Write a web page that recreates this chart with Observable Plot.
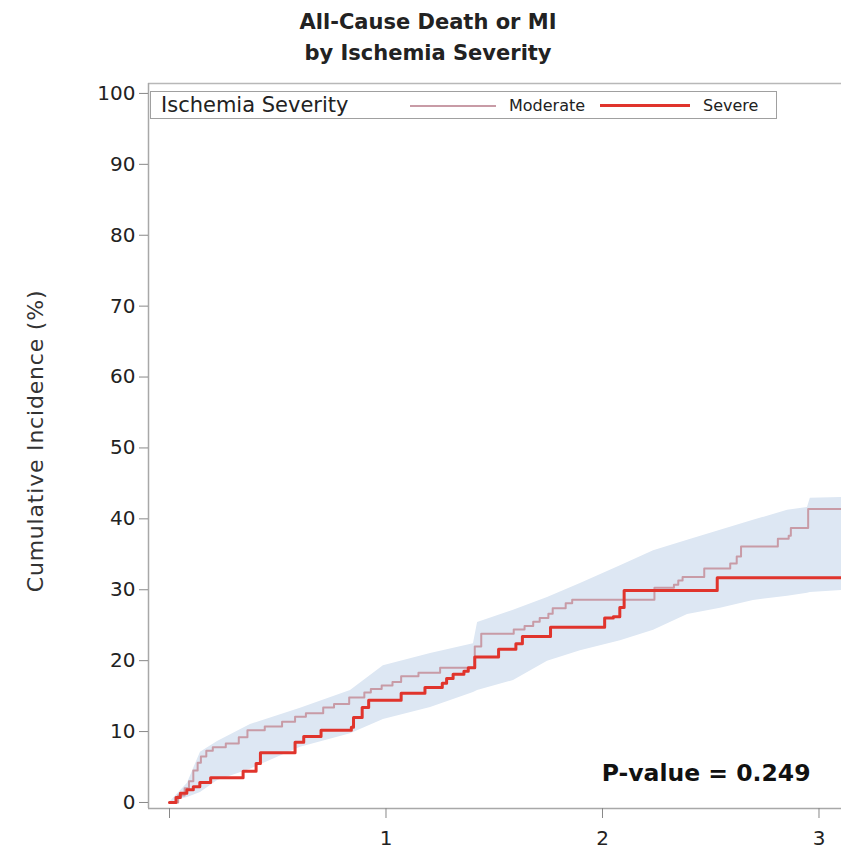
<!DOCTYPE html>
<html>
<head>
<meta charset="utf-8">
<script src="https://cdn.jsdelivr.net/npm/d3@7"></script>
<script src="https://cdn.jsdelivr.net/npm/@observablehq/plot@0.6"></script>
<style>
  html, body { margin: 0; padding: 0; background: #fff; }
  #wrap { position: relative; width: 841px; height: 856px; font-family: "DejaVu Sans", sans-serif; color: #222; overflow: hidden; }
  #title { position: absolute; left: 0; top: 7px; width: 856px; text-align: center; font-weight: bold; font-size: 21px; line-height: 31px; }
  #legend { position: absolute; left: 150px; top: 91px; width: 625px; height: 26px; border: 1px solid #a0a0a0; background: #fff; }
  #legend span { position: absolute; top: 50%; transform: translateY(-50%); white-space: nowrap; }
  #legend .sw { position: absolute; top: 13px; }
  #chart { position: absolute; left: 0; top: 0; }
</style>
</head>
<body>
<div id="wrap">
  <div id="chart"></div>
  <div id="title"></div>
  <div id="legend"></div>
</div>
<script>
// ---------- data ----------
const titleLines = ["All-Cause Death or MI", "by Ischemia Severity"];
const legendTitle = "Ischemia Severity";
const seriesNames = ["Moderate", "Severe"];
const seriesColors = ["#c89ba6", "#e0342c"];
const yLabel = "Cumulative Incidence (%)";
const pLabel = "P-value = 0.249";
const xTicks = [0, 1, 2, 3];
const yTicks = [0, 10, 20, 30, 40, 50, 60, 70, 80, 90, 100];
const xDomain = [-0.097, 3.104];
const yDomain = [-0.85, 101.4];

// Moderate ischemia (step times, cumulative incidence %)
const modT = [0, 0.04, 0.07, 0.09, 0.11, 0.13, 0.145, 0.17, 0.20, 0.26, 0.32, 0.36, 0.44, 0.52, 0.58, 0.63, 0.71, 0.76, 0.83, 0.90, 0.93, 0.98, 1.03, 1.07, 1.15, 1.25, 1.41, 1.44, 1.59, 1.64, 1.68, 1.71, 1.75, 1.77, 1.83, 1.86, 2.24, 2.33, 2.35, 2.37, 2.47, 2.59, 2.62, 2.64, 2.81, 2.86, 2.87, 2.95, 3.104];
const modV = [0, 1.0, 2.0, 3.0, 4.5, 5.6, 6.5, 7.3, 7.8, 8.3, 9.2, 10.2, 10.7, 11.4, 12.1, 12.6, 13.4, 13.9, 14.8, 15.5, 16.0, 16.5, 17.0, 17.8, 18.3, 19.0, 22.0, 23.8, 24.4, 24.9, 25.5, 26.0, 26.6, 27.4, 28.1, 28.6, 30.3, 30.7, 31.3, 31.8, 33.0, 33.7, 34.7, 36.1, 37.2, 37.6, 38.7, 41.4, 41.4];

// Severe ischemia
const sevT = [0, 0.03, 0.05, 0.08, 0.11, 0.14, 0.19, 0.34, 0.40, 0.42, 0.58, 0.62, 0.70, 0.84, 0.85, 0.89, 0.92, 1.07, 1.18, 1.26, 1.28, 1.31, 1.36, 1.38, 1.41, 1.52, 1.60, 1.63, 1.76, 2.01, 2.05, 2.08, 2.10, 2.53, 3.104];
const sevV = [0, 0.7, 1.3, 1.8, 2.2, 2.8, 3.5, 4.4, 5.5, 7.0, 8.5, 9.3, 10.2, 10.6, 12.0, 13.4, 14.4, 15.4, 16.2, 16.8, 17.5, 18.1, 18.5, 19.0, 20.5, 21.6, 22.4, 23.4, 24.7, 26.0, 26.2, 27.5, 29.9, 31.7, 31.7];

// Confidence band
const bandT  = [0, 0.083, 0.143, 0.222, 0.374, 0.605, 0.836, 0.988, 1.206, 1.404, 1.423, 1.589, 1.746, 1.898, 2.083, 2.236, 2.393, 2.545, 2.697, 2.855, 2.947, 2.96, 3.104];
const bandLo = [0, 0.7, 1.4, 3.1, 4.7, 7.8, 9.7, 11.7, 13.4, 15.5, 15.8, 17.2, 19.9, 21.4, 22.8, 24.3, 26.5, 27.4, 28.5, 29.1, 29.5, 29.6, 29.9];
const bandHi = [0, 2.7, 7.1, 8.6, 11.0, 13.3, 15.8, 19.3, 21.0, 22.4, 25.4, 27.1, 28.9, 30.9, 33.4, 35.5, 37.0, 38.4, 39.8, 41.2, 41.6, 42.9, 43.0];

// ---------- build tables ----------
const band = bandT.map((t, i) => ({t, lo: bandLo[i], hi: bandHi[i]}));
const moderate = modT.map((t, i) => ({t, v: modV[i]}));
const severe = sevT.map((t, i) => ({t, v: sevV[i]}));

// ---------- title ----------
document.getElementById("title").innerHTML = titleLines.map(s => `<div>${s}</div>`).join("");

// ---------- plot ----------
const chart = Plot.plot({
  width: 841,
  height: 856,
  marginTop: 83,
  marginBottom: 48,
  marginLeft: 148,
  marginRight: 0,
  style: {fontFamily: "DejaVu Sans, sans-serif", background: "transparent", color: "#222"},
  x: {domain: xDomain},
  y: {domain: yDomain},
  marks: [
    Plot.areaY(band, {x: "t", y1: "lo", y2: "hi", curve: "linear", fill: "#dde7f3"}),
    Plot.line(moderate, {x: "t", y: "v", curve: "step-after", stroke: seriesColors[0], strokeWidth: 2}),
    Plot.line(severe, {x: "t", y: "v", curve: "step-after", stroke: seriesColors[1], strokeWidth: 3}),
    Plot.ruleY([yDomain[0]], {stroke: "#a8a8a8", strokeWidth: 1.5}),
    Plot.ruleY([yDomain[1]], {stroke: "#b8b8b8", strokeWidth: 1.5}),
    Plot.ruleX([xDomain[0]], {stroke: "#a8a8a8", strokeWidth: 1.5}),
    Plot.axisY({ticks: yTicks, tickSize: 9, tickPadding: 4, fontSize: 20, stroke: "#888", fill: "#222", label: null}),
    Plot.axisX({ticks: xTicks, tickFormat: d => d === 0 ? "" : String(d), tickSize: 10, tickPadding: 12, fontSize: 20, stroke: "#888", fill: "#222", label: null}),
    Plot.text([yLabel], {frameAnchor: "left", textAnchor: "middle", rotate: -90, dx: -113, dy: -5, fontSize: 22, fill: "#333"}),
    Plot.text([pLabel], {frameAnchor: "bottom-right", textAnchor: "end", lineAnchor: "middle", dx: -31, dy: -35, fontSize: 23.5, fontWeight: "bold", fill: "#111"})
  ]
});
document.getElementById("chart").appendChild(chart);
chart.querySelectorAll("text").forEach(t => { if (t.textContent === yLabel) t.setAttribute("letter-spacing", "0.8"); });

// ---------- legend ----------
const lg = document.getElementById("legend");
lg.innerHTML = `
  <span style="left:10px;font-size:21px;">${legendTitle}</span>
  <div class="sw" style="left:259px;width:86px;border-top:2px solid ${seriesColors[0]};"></div>
  <span style="left:358px;font-size:16px;">${seriesNames[0]}</span>
  <div class="sw" style="left:449px;width:90px;border-top:3px solid ${seriesColors[1]};margin-top:-1px;"></div>
  <span style="left:552px;font-size:16px;">${seriesNames[1]}</span>`;
</script>
</body>
</html>
